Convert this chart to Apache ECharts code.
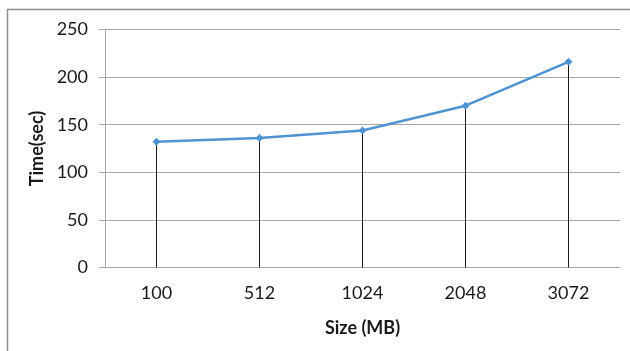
<!DOCTYPE html>
<html>
<head>
<meta charset="utf-8">
<script src="https://cdn.jsdelivr.net/npm/echarts@6/dist/echarts.min.js"></script>
<style>
  html, body { margin: 0; padding: 0; background: #fff; }
  #chart { width: 630px; height: 351px; }
</style>
</head>
<body>
<div id="chart"></div>
<script>
// File sizes (MB) and the measured processing times (sec)
const sizes = ['100', '512', '1024', '2048', '3072'];
const times = [132, 136, 144, 170, 216];
const yTicks = { min: 0, max: 250, interval: 50 };

const FONT = 'Lato, "Open Sans", sans-serif';

const chart = echarts.init(document.getElementById('chart'), null, { renderer: 'canvas' });

chart.setOption({
  animation: false,
  backgroundColor: '#ffffff',
  graphic: [{
    // chart-area frame (only its top and left edges fall inside the view)
    type: 'rect',
    shape: { x: 7.5, y: 9.5, width: 700, height: 400 },
    style: { fill: 'none', stroke: '#8f8f8f', lineWidth: 1.5 },
    silent: true,
    z: 0
  }],
  grid: { left: 105, right: 10, top: 29.5, bottom: 83.5, containLabel: false },
  xAxis: {
    type: 'category',
    data: sizes,
    boundaryGap: true,
    name: 'Size (MB)',
    nameLocation: 'middle',
    nameGap: 52,
    nameTextStyle: { fontFamily: FONT, fontSize: 18, fontWeight: 'bold', color: '#1a1a1a' },
    axisLine: { show: true, lineStyle: { color: '#a6a6a6', width: 1 } },
    axisTick: { show: false },
    axisLabel: { fontFamily: FONT, fontSize: 18, color: '#1a1a1a', margin: 17 },
    splitLine: { show: false }
  },
  yAxis: {
    type: 'value',
    min: yTicks.min,
    max: yTicks.max,
    interval: yTicks.interval,
    name: 'Time(sec)',
    nameLocation: 'middle',
    nameGap: 56,
    nameRotate: 90,
    nameTextStyle: { fontFamily: FONT, fontSize: 18, fontWeight: 'bold', color: '#1a1a1a' },
    axisLine: { show: true, lineStyle: { color: '#a6a6a6', width: 1 } },
    axisTick: { show: true, length: 6, lineStyle: { color: '#a6a6a6' } },
    axisLabel: { fontFamily: FONT, fontSize: 18, color: '#1a1a1a', margin: 17 },
    splitLine: { show: true, lineStyle: { color: '#a6a6a6', width: 1 } }
  },
  series: [
    {
      // drop lines from each point down to the category axis
      type: 'bar',
      data: times,
      barWidth: 1,
      itemStyle: { color: '#1a1a1a' },
      silent: true,
      z: 1
    },
    {
      type: 'line',
      data: times,
      symbol: 'diamond',
      symbolSize: 8,
      lineStyle: { color: '#4f93d3', width: 2.5 },
      itemStyle: { color: '#4f93d3' },
      z: 3
    }
  ]
});
</script>
</body>
</html>
